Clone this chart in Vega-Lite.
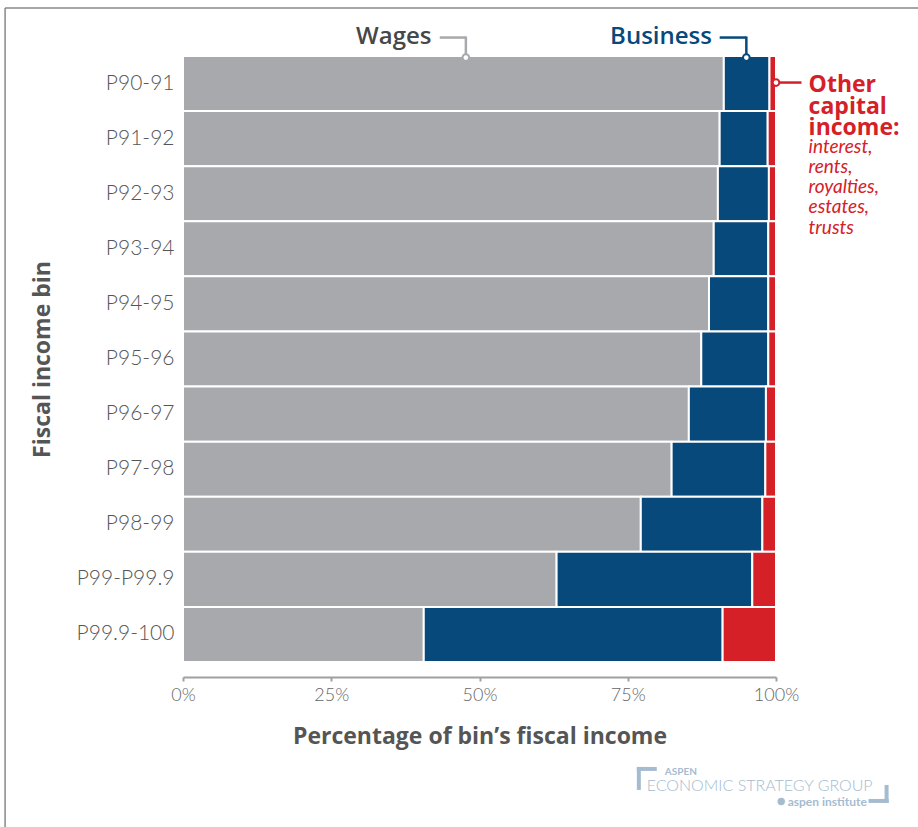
{
  "$schema": "https://vega.github.io/schema/vega-lite/v6.json",
  "width": 593,
  "height": 606,
  "autosize": {"type": "none"},
  "padding": {"left": 183, "top": 56, "right": 142, "bottom": 165},
  "background": "white",
  "config": {"view": {"stroke": null}, "font": "Lato"},
  "layer": [
    {
      "data": {"values": [
        {"bin": "P90-91", "component": "Wages", "rank": 1, "share": 0.912},
        {"bin": "P90-91", "component": "Business", "rank": 2, "share": 0.077},
        {"bin": "P90-91", "component": "Other capital income", "rank": 3, "share": 0.011},
        {"bin": "P91-92", "component": "Wages", "rank": 1, "share": 0.905},
        {"bin": "P91-92", "component": "Business", "rank": 2, "share": 0.081},
        {"bin": "P91-92", "component": "Other capital income", "rank": 3, "share": 0.014},
        {"bin": "P92-93", "component": "Wages", "rank": 1, "share": 0.902},
        {"bin": "P92-93", "component": "Business", "rank": 2, "share": 0.086},
        {"bin": "P92-93", "component": "Other capital income", "rank": 3, "share": 0.012},
        {"bin": "P93-94", "component": "Wages", "rank": 1, "share": 0.895},
        {"bin": "P93-94", "component": "Business", "rank": 2, "share": 0.092},
        {"bin": "P93-94", "component": "Other capital income", "rank": 3, "share": 0.013},
        {"bin": "P94-95", "component": "Wages", "rank": 1, "share": 0.887},
        {"bin": "P94-95", "component": "Business", "rank": 2, "share": 0.100},
        {"bin": "P94-95", "component": "Other capital income", "rank": 3, "share": 0.013},
        {"bin": "P95-96", "component": "Wages", "rank": 1, "share": 0.874},
        {"bin": "P95-96", "component": "Business", "rank": 2, "share": 0.113},
        {"bin": "P95-96", "component": "Other capital income", "rank": 3, "share": 0.013},
        {"bin": "P96-97", "component": "Wages", "rank": 1, "share": 0.853},
        {"bin": "P96-97", "component": "Business", "rank": 2, "share": 0.130},
        {"bin": "P96-97", "component": "Other capital income", "rank": 3, "share": 0.017},
        {"bin": "P97-98", "component": "Wages", "rank": 1, "share": 0.824},
        {"bin": "P97-98", "component": "Business", "rank": 2, "share": 0.158},
        {"bin": "P97-98", "component": "Other capital income", "rank": 3, "share": 0.018},
        {"bin": "P98-99", "component": "Wages", "rank": 1, "share": 0.772},
        {"bin": "P98-99", "component": "Business", "rank": 2, "share": 0.205},
        {"bin": "P98-99", "component": "Other capital income", "rank": 3, "share": 0.023},
        {"bin": "P99-P99.9", "component": "Wages", "rank": 1, "share": 0.630},
        {"bin": "P99-P99.9", "component": "Business", "rank": 2, "share": 0.330},
        {"bin": "P99-P99.9", "component": "Other capital income", "rank": 3, "share": 0.040},
        {"bin": "P99.9-100", "component": "Wages", "rank": 1, "share": 0.406},
        {"bin": "P99.9-100", "component": "Business", "rank": 2, "share": 0.504},
        {"bin": "P99.9-100", "component": "Other capital income", "rank": 3, "share": 0.090}
      ]},
      "mark": {"type": "bar", "stroke": "white", "strokeWidth": 2},
      "encoding": {
        "y": {
          "field": "bin", "type": "nominal",
          "scale": {"domain": ["P90-91","P91-92","P92-93","P93-94","P94-95","P95-96","P96-97","P97-98","P98-99","P99-P99.9","P99.9-100"], "paddingInner": 0, "paddingOuter": 0},
          "axis": {"title": "Fiscal income bin", "titleFont": "Open Sans", "titleFontSize": 23, "titleFontWeight": "bold", "titleColor": "#555555", "titlePadding": 22, "labelFontSize": 21, "labelFontWeight": 300, "labelColor": "#555555", "labelPadding": 9, "ticks": false, "domain": false}
        },
        "x": {
          "field": "share", "type": "quantitative", "stack": "zero",
          "scale": {"domain": [0, 1]},
          "axis": {"title": "Percentage of bin’s fiscal income", "values": [0, 0.25, 0.5, 0.75, 1], "format": ".0%", "offset": 15, "grid": false, "domainColor": "#a0a0a0", "domainWidth": 2, "tickColor": "#a0a0a0", "tickWidth": 2, "tickSize": 4, "labelFontSize": 18, "labelFontWeight": 300, "labelColor": "#666666", "labelPadding": 5, "labelFlush": false, "titleFont": "Open Sans", "titleFontSize": 23, "titleFontWeight": "bold", "titleColor": "#555555", "titlePadding": 21}
        },
        "color": {"field": "component", "type": "nominal", "scale": {"domain": ["Wages", "Business", "Other capital income"], "range": ["#a7a9ac", "#08497b", "#d62027"]}, "legend": null},
        "order": {"field": "rank", "type": "quantitative"}
      }
    },
    {
      "data": {"values": [{"label": "Wages"}]},
      "layer": [
        {"mark": {"type": "text", "align": "right", "baseline": "middle", "dy": -46.5, "font": "Open Sans", "fontSize": 24, "fontWeight": 600, "color": "#474747"},
         "encoding": {"x": {"datum": 0.419}, "y": {"datum": "P90-91"}, "text": {"field": "label"}}},
        {"mark": {"type": "rule", "color": "#a7a9ac", "strokeWidth": 2.5, "yOffset": -46},
         "encoding": {"x": {"datum": 0.433}, "x2": {"datum": 0.477}, "y": {"datum": "P90-91"}}},
        {"mark": {"type": "rule", "color": "#a7a9ac", "strokeWidth": 2.5, "yOffset": -47, "y2Offset": -26.5},
         "encoding": {"x": {"datum": 0.477}, "y": {"datum": "P90-91"}, "y2": {"datum": "P90-91"}}},
        {"mark": {"type": "point", "filled": true, "fill": "white", "stroke": "#a7a9ac", "strokeWidth": 2, "size": 45, "opacity": 1, "yOffset": -26},
         "encoding": {"x": {"datum": 0.477}, "y": {"datum": "P90-91"}}}
      ]
    },
    {
      "data": {"values": [{"label": "Business"}]},
      "layer": [
        {"mark": {"type": "text", "align": "right", "baseline": "middle", "dy": -46.5, "font": "Open Sans", "fontSize": 24, "fontWeight": 600, "color": "#08497b"},
         "encoding": {"x": {"datum": 0.892}, "y": {"datum": "P90-91"}, "text": {"field": "label"}}},
        {"mark": {"type": "rule", "color": "#08497b", "strokeWidth": 2.5, "yOffset": -46},
         "encoding": {"x": {"datum": 0.905}, "x2": {"datum": 0.950}, "y": {"datum": "P90-91"}}},
        {"mark": {"type": "rule", "color": "#08497b", "strokeWidth": 2.5, "yOffset": -47, "y2Offset": -26.5},
         "encoding": {"x": {"datum": 0.950}, "y": {"datum": "P90-91"}, "y2": {"datum": "P90-91"}}},
        {"mark": {"type": "point", "filled": true, "fill": "white", "stroke": "#08497b", "strokeWidth": 2, "size": 45, "opacity": 1, "yOffset": -26},
         "encoding": {"x": {"datum": 0.950}, "y": {"datum": "P90-91"}}}
      ]
    },
    {
      "data": {"values": [{"label": "Other"}]},
      "layer": [
        {"mark": {"type": "rule", "color": "#d62027", "strokeWidth": 2.5, "yOffset": -1},
         "encoding": {"x": {"datum": 1.0}, "x2": {"datum": 1.043}, "y": {"datum": "P90-91"}}},
        {"mark": {"type": "point", "filled": true, "fill": "white", "stroke": "#d62027", "strokeWidth": 2, "size": 45, "opacity": 1, "yOffset": -1},
         "encoding": {"x": {"datum": 1.0}, "y": {"datum": "P90-91"}}},
        {"mark": {"type": "text", "align": "left", "baseline": "alphabetic", "dy": 8.3, "font": "Open Sans", "fontSize": 23, "fontWeight": "bold", "lineHeight": 21.7, "color": "#d62027", "text": ["Other", "capital", "income:"]},
         "encoding": {"x": {"datum": 1.055}, "y": {"datum": "P90-91"}}},
        {"mark": {"type": "text", "align": "left", "baseline": "alphabetic", "dy": 69, "fontSize": 19, "fontStyle": "italic", "lineHeight": 20.3, "color": "#d62027", "text": ["interest,", "rents,", "royalties,", "estates,", "trusts"]},
         "encoding": {"x": {"datum": 1.055}, "y": {"datum": "P90-91"}}}
      ]
    },
    {
      "data": {"values": [{"label": "logo"}]},
      "layer": [
        {"mark": {"type": "text", "align": "left", "baseline": "middle", "dy": 137.2, "fontSize": 10, "fontWeight": "bold", "letterSpacing": 4, "color": "#a5bcd0", "text": "ASPEN"},
         "encoding": {"x": {"datum": 0.8125}, "y": {"datum": "P99.9-100"}}},
        {"mark": {"type": "text", "align": "left", "baseline": "middle", "dy": 152, "fontSize": 16, "fontWeight": 300, "color": "#a5bcd0", "text": "ECONOMIC STRATEGY GROUP"},
         "encoding": {"x": {"datum": 0.782}, "y": {"datum": "P99.9-100"}}},
        {"mark": {"type": "text", "align": "left", "baseline": "middle", "dy": 167.2, "fontSize": 12, "fontWeight": "bold", "color": "#a5bcd0", "text": "aspen institute"},
         "encoding": {"x": {"datum": 1.0197}, "y": {"datum": "P99.9-100"}}},
        {"mark": {"type": "point", "filled": true, "shape": "circle", "size": 55, "color": "#a5bcd0", "opacity": 1, "yOffset": 167},
         "encoding": {"x": {"datum": 1.0088}, "y": {"datum": "P99.9-100"}}},
        {"mark": {"type": "rule", "color": "#a5bcd0", "strokeWidth": 4, "yOffset": 134.5},
         "encoding": {"x": {"datum": 0.7653}, "x2": {"datum": 0.799}, "y": {"datum": "P99.9-100"}}},
        {"mark": {"type": "rule", "color": "#a5bcd0", "strokeWidth": 4, "yOffset": 132.5, "y2Offset": 155.5},
         "encoding": {"x": {"datum": 0.7687}, "y": {"datum": "P99.9-100"}, "y2": {"datum": "P99.9-100"}}},
        {"mark": {"type": "rule", "color": "#a5bcd0", "strokeWidth": 4, "yOffset": 150.5, "y2Offset": 168.5},
         "encoding": {"x": {"datum": 1.1865}, "y": {"datum": "P99.9-100"}, "y2": {"datum": "P99.9-100"}}},
        {"mark": {"type": "rule", "color": "#a5bcd0", "strokeWidth": 4, "yOffset": 166.5},
         "encoding": {"x": {"datum": 1.156}, "x2": {"datum": 1.190}, "y": {"datum": "P99.9-100"}}}
      ]
    },
    {
      "data": {"values": [{"label": "frame"}]},
      "layer": [
        {"mark": {"type": "rule", "color": "#888888", "strokeWidth": 1.5, "yOffset": -75.5},
         "encoding": {"x": {"datum": -0.300}, "x2": {"datum": 1.24}, "y": {"datum": "P90-91"}}},
        {"mark": {"type": "rule", "color": "#888888", "strokeWidth": 1.5, "yOffset": -75.5, "y2Offset": 193},
         "encoding": {"x": {"datum": -0.300}, "y": {"datum": "P90-91"}, "y2": {"datum": "P99.9-100"}}}
      ]
    }
  ]
}
